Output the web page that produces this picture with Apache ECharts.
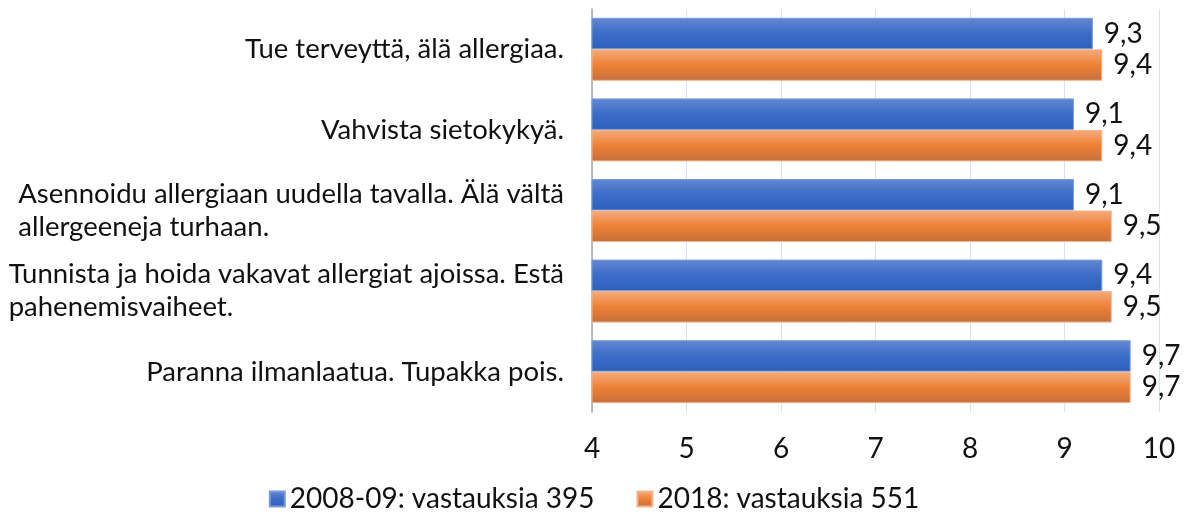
<!DOCTYPE html>
<html>
<head>
<meta charset="utf-8">
<script src="https://cdn.jsdelivr.net/npm/echarts@6/dist/echarts.min.js"></script>
<style>
  html, body { margin: 0; padding: 0; background: #ffffff; }
  #chart { width: 1188px; height: 525px; }
</style>
</head>
<body>
<div id="chart"></div>
<script>
// Categories, listed top to bottom
const categories = [
  'Tue terveyttä, älä allergiaa.',
  'Vahvista sietokykyä.',
  'Asennoidu allergiaan uudella tavalla. Älä vältä\nallergeeneja turhaan.',
  'Tunnista ja hoida vakavat allergiat ajoissa. Estä\npahenemisvaiheet.',
  'Paranna ilmanlaatua. Tupakka pois.'
];
const seriesNames = ['2008-09: vastauksia 395', '2018: vastauksia 551'];
const values2008 = [9.3, 9.1, 9.1, 9.4, 9.7];
const values2018 = [9.4, 9.4, 9.5, 9.5, 9.7];
const xTicks = [4, 5, 6, 7, 8, 9, 10];

const FONT = 'Lato';
const FS = 28;
const CAT_FS = 27.5;
const INK = '#111111';

function grad(top, mid, bottom) {
  return new echarts.graphic.LinearGradient(0, 0, 0, 1, [
    { offset: 0, color: top },
    { offset: 0.5, color: mid },
    { offset: 1, color: bottom }
  ]);
}
const blueFill = grad('#6388d3', '#3c6cc6', '#2d60be');
const orangeFill = grad('#f4ac7e', '#ee8035', '#c4703c');

function barSeries(name, data, fill, border) {
  return {
    name: name,
    type: 'bar',
    data: data,
    barWidth: 31.5,
    barGap: '0%',
    itemStyle: { color: fill, borderColor: border, borderWidth: 1 },
    label: {
      show: true,
      position: 'right',
      distance: 11,
      fontFamily: FONT,
      fontSize: FS,
      color: INK,
      formatter: p => String(p.value).replace('.', ',')
    }
  };
}

const chart = echarts.init(document.getElementById('chart'), null, { renderer: 'canvas' });
chart.setOption({
  animation: false,
  backgroundColor: '#ffffff',
  grid: {
    left: 592, right: 29, top: 9, bottom: 113,
    containLabel: false,
    outerBoundsMode: 'none'
  },
  legend: {
    data: seriesNames,
    bottom: 7,
    left: 'center',
    itemWidth: 15,
    itemHeight: 15,
    itemGap: 42,
    icon: 'rect',
    textStyle: { fontFamily: FONT, fontSize: FS, color: INK }
  },
  xAxis: {
    type: 'value',
    min: xTicks[0],
    max: xTicks[xTicks.length - 1],
    interval: 1,
    axisLine: { show: false },
    axisTick: { show: false },
    splitLine: { show: true, lineStyle: { color: '#d9e2ee', width: 1 } },
    axisLabel: {
      margin: 23,
      fontFamily: FONT,
      fontSize: FS,
      color: INK
    }
  },
  yAxis: {
    type: 'category',
    data: categories,
    inverse: true,
    axisLine: { show: true, lineStyle: { color: '#a6a6a6', width: 1.5 } },
    axisTick: { show: false },
    axisLabel: {
      margin: 28,
      align: 'right',
      fontFamily: FONT,
      fontSize: CAT_FS,
      color: INK,
      lineHeight: 33,
      formatter: v => '{t|' + v.split('\n').join('}\n{t|') + '}',
      rich: { t: { align: 'left', fontFamily: FONT, fontSize: CAT_FS, lineHeight: 33, color: INK } }
    }
  },
  series: [
    barSeries(seriesNames[0], values2008, blueFill, '#7a9bda'),
    barSeries(seriesNames[1], values2018, orangeFill, '#f2b58e')
  ]
});
</script>
</body>
</html>
